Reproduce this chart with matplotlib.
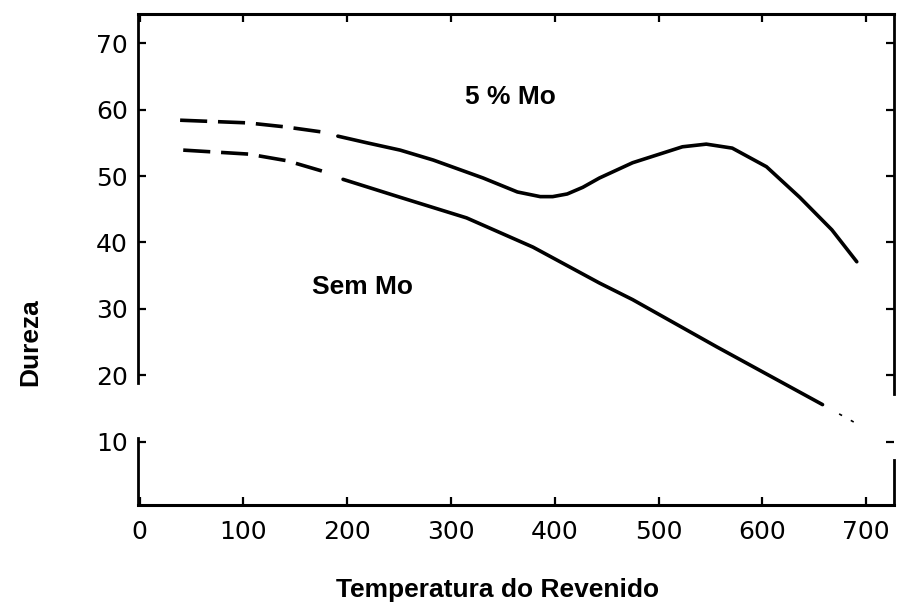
import numpy as np
import matplotlib
matplotlib.use("Agg")
import matplotlib.pyplot as plt

# curva com 5 % Mo (trecho tracejado + trecho continuo)
temp_mo_tr = [39, 104, 140, 177]
dur_mo_tr = [58.4, 58.0, 57.4, 56.6]
temp_mo = [191, 219, 251, 283, 331, 364, 386, 398, 412, 427, 443, 475, 523, 546, 571, 604, 636, 667, 691]
dur_mo = [56.0, 55.0, 53.9, 52.4, 49.7, 47.6, 46.9, 46.9, 47.3, 48.3, 49.7, 52.0, 54.4, 54.8, 54.2, 51.4, 46.8, 41.9, 37.1]

# curva sem Mo
temp_sem_tr = [42, 105, 142, 179]
dur_sem_tr = [53.9, 53.3, 52.3, 50.6]
temp_sem = [196, 251, 315, 379, 443, 475, 556, 658]
dur_sem = [49.5, 46.8, 43.7, 39.3, 33.9, 31.4, 24.3, 15.6]
temp_sem_fim = [674, 689]
dur_sem_fim = [14.2, 12.9]

xticks = [0, 100, 200, 300, 400, 500, 600, 700]
yticks = [10, 20, 30, 40, 50, 60, 70]

plt.rcParams['font.family'] = ['Liberation Sans', 'DejaVu Sans']

fig = plt.figure(figsize=(9.05, 6.04), dpi=100)
ax = fig.add_axes([0.152, 0.164, 0.836, 0.813])

lw = 2.6
ax.plot(temp_mo_tr, dur_mo_tr, color='black', lw=lw, dashes=(7.5, 3))
ax.plot(temp_mo, dur_mo, color='black', lw=lw, solid_capstyle='round', solid_joinstyle='round')
ax.plot(temp_sem_tr, dur_sem_tr, color='black', lw=lw, dashes=(7.5, 3))
ax.plot(temp_sem, dur_sem, color='black', lw=lw, solid_capstyle='round', solid_joinstyle='round')
ax.plot(temp_sem_fim, dur_sem_fim, color='black', lw=1.2, ls=(0, (2, 6)))

ax.set_xlim(-2, 727)
ax.set_ylim(0.5, 74.4)
ax.set_xticks(xticks)
ax.set_yticks(yticks)
ax.set_xticklabels([str(t) for t in xticks], family='DejaVu Sans', fontsize=18)
ax.set_yticklabels([str(t) for t in yticks], family='DejaVu Sans', fontsize=18)
ax.tick_params(direction='in', length=6, width=1.6, top=True, right=True)
ax.tick_params(axis='x', pad=11)
ax.tick_params(axis='y', pad=7)

# bordas desenhadas a mao (com falhas como no original)
for s in ['left', 'right']:
    ax.spines[s].set_visible(False)
for s in ['top', 'bottom']:
    ax.spines[s].set_linewidth(2.2)
ytr = ax.get_yaxis_transform()
ax.plot([0, 0], [18.9, 74.4], color='black', lw=2.0, transform=ytr, clip_on=False)
ax.plot([0, 0], [0.5, 10.6], color='black', lw=2.0, transform=ytr, clip_on=False)
ax.plot([1, 1], [17.2, 74.4], color='black', lw=2.0, transform=ytr, clip_on=False)
ax.plot([1, 1], [0.5, 7.3], color='black', lw=2.0, transform=ytr, clip_on=False)

ax.text(357, 61.9, '5 % Mo', fontsize=19, fontweight='bold', ha='center', va='center')
ax.text(215, 33.3, 'Sem Mo', fontsize=19, fontweight='bold', ha='center', va='center')

fig.text(498 / 905, 1 - 590 / 604, 'Temperatura do Revenido', fontsize=19,
         fontweight='bold', ha='center', va='center')
fig.text(30 / 905, 1 - 342 / 604, 'Dureza', fontsize=19, fontweight='bold',
         ha='center', va='center', rotation=90)

fig.savefig('out.png', dpi=100)
